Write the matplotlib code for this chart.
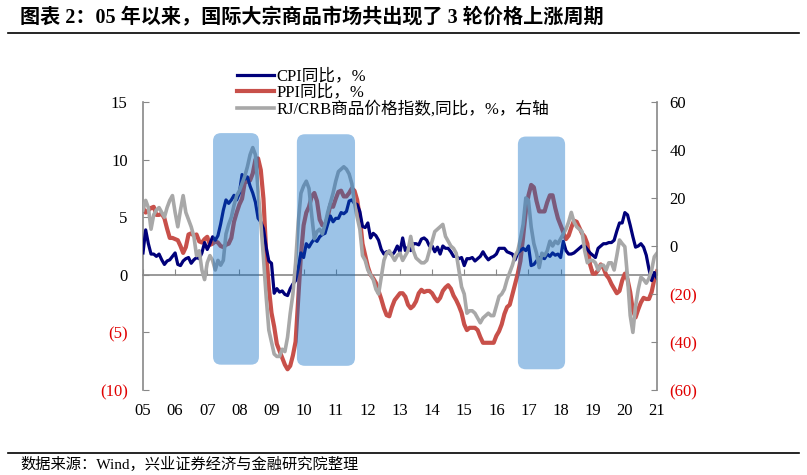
import numpy as np
import matplotlib
matplotlib.use("Agg")
import matplotlib.pyplot as plt
from matplotlib.patches import FancyBboxPatch
from matplotlib.lines import Line2D

# 月度数据 2005-01 ~ 2021-01
cpi = [1.9, 3.9, 2.7, 1.8, 1.8, 1.6, 1.8, 1.3, 0.9, 1.2, 1.3, 1.6,
       1.9, 0.9, 0.8, 1.2, 1.4, 1.5, 1.0, 1.3, 1.5, 1.4, 1.9, 2.8,
       2.2, 2.7, 3.3, 3.0, 3.4, 4.4, 5.6, 6.5, 6.2, 6.5, 6.9, 6.5,
       7.1, 8.7, 8.3, 8.5, 7.7, 7.1, 6.3, 4.9, 4.6, 4.0, 2.4, 1.2,
       1.0, -1.6, -1.2, -1.5, -1.4, -1.7, -1.8, -1.2, -0.8, -0.5, 0.6, 1.9,
       1.5, 2.7, 2.4, 2.8, 3.1, 2.9, 3.3, 3.5, 3.6, 4.4, 5.1, 4.6,
       4.9, 4.9, 5.4, 5.3, 5.5, 6.4, 6.5, 6.2, 6.1, 5.5, 4.2, 4.1,
       4.5, 3.2, 3.6, 3.4, 3.0, 2.2, 1.8, 2.0, 1.9, 1.7, 2.0, 2.5,
       2.0, 3.2, 2.1, 2.4, 2.1, 2.7, 2.7, 2.6, 3.1, 3.2, 3.0, 2.5,
       2.5, 2.0, 2.4, 1.8, 2.5, 2.3, 2.3, 2.0, 1.6, 1.6, 1.4, 1.5,
       0.8, 1.4, 1.4, 1.5, 1.2, 1.4, 1.6, 2.0, 1.6, 1.3, 1.5, 1.6,
       1.8, 2.3, 2.3, 2.3, 2.0, 1.9, 1.8, 1.3, 1.9, 2.1, 2.3, 2.1,
       2.5, 0.8, 0.9, 1.2, 1.5, 1.5, 1.4, 1.8, 1.6, 1.9, 1.7, 1.8,
       1.5, 2.9, 2.1, 1.8, 1.8, 1.9, 2.1, 2.3, 2.5, 2.5, 2.2, 1.9,
       1.7, 1.5, 2.3, 2.5, 2.7, 2.7, 2.8, 2.8, 3.0, 3.8, 4.5, 4.5,
       5.4, 5.2, 4.3, 3.3, 2.4, 2.5, 2.7, 2.4, 1.7, 0.5, -0.5, 0.2,
       -0.3]

ppi = [5.8, 5.4, 5.6, 5.8, 5.9, 5.2, 5.2, 5.3, 4.9, 4.0, 3.2, 3.2,
       3.1, 3.0, 2.5, 1.9, 2.4, 3.5, 3.6, 3.4, 3.5, 2.9, 2.8, 3.1,
       3.3, 2.6, 2.7, 2.9, 2.8, 2.5, 2.4, 2.6, 2.7, 3.2, 4.6, 5.4,
       6.1, 6.6, 8.0, 8.1, 8.2, 8.8, 10.0, 10.1, 9.1, 6.6, 2.0, -1.1,
       -3.3, -4.5, -6.0, -6.6, -7.2, -7.8, -8.2, -7.9, -7.0, -5.8, -2.1, 1.7,
       4.3, 5.4, 5.9, 6.8, 7.1, 6.4, 4.8, 4.3, 4.3, 5.0, 6.1, 5.9,
       6.6, 7.2, 7.3, 6.8, 6.8, 7.1, 7.5, 7.3, 6.5, 5.0, 2.7, 1.7,
       0.7, 0.0, -0.3, -0.7, -1.4, -2.1, -2.9, -3.5, -3.6, -2.8, -2.2, -1.9,
       -1.6, -1.6, -1.9, -2.6, -2.9, -2.7, -2.3, -1.6, -1.3, -1.5, -1.4, -1.4,
       -1.6, -2.0, -2.3, -2.0, -1.4, -1.1, -0.9, -1.2, -1.8, -2.2, -2.7, -3.3,
       -4.3, -4.8, -4.6, -4.6, -4.6, -4.8, -5.4, -5.9, -5.9, -5.9, -5.9, -5.9,
       -5.3, -4.9, -4.3, -3.4, -2.8, -2.6, -1.7, -0.8, 0.1, 1.2, 3.3, 5.5,
       6.9, 7.8, 7.6, 6.4, 5.5, 5.5, 5.5, 6.3, 6.9, 6.9, 5.8, 4.9,
       4.3, 3.7, 3.1, 3.4, 4.1, 4.7, 4.6, 4.1, 3.6, 3.3, 2.7, 0.9,
       0.1, 0.1, 0.4, 0.9, 0.6, 0.0, -0.3, -0.8, -1.2, -1.6, -1.4, -0.5,
       0.1, -0.4, -1.5, -3.1, -3.7, -3.0, -2.4, -2.0, -2.1, -2.1, -1.5, -0.4,
       0.3]

crb = [15, 19, 16, 7, 13, 15, 16, 14, 12, 16, 19, 21,
       14, 8, 15, 21, 14, 11, 8, 4, -4, -2, -10, -14,
       -7, -4, -6, -10, -6, -8, -6, 5, 9, 12, 17, 21,
       23, 26, 29, 33, 38, 41, 38, 23, 10, -5, -21, -35,
       -40, -45, -46, -46, -43, -44, -38, -28, -20, -7, 10, 22,
       25, 27, 24, 13, 3, 6, 7, 5, 9, 14, 18, 22,
       27, 31, 32, 33, 32, 30, 26, 18, 12, 7, -4, -6,
       -10, -12, -14, -18, -20, -13, -6, -3, -2, -4, -6, -4,
       -3, -6, -4, -2, 4, -2, -5, -6, -7, -7, -6, -2,
       2, 6, 7, 8, 9, 4, 2, 0, -1, -3, -10, -17,
       -20, -28, -27, -27, -28, -30, -32, -30, -29, -28, -29, -29,
       -25, -21, -20, -18, -14, -11, -8, -4, -2, 3, 9, 20,
       19, 8, 1, -3, -9, -3, -4, -2, 2, 0, 2, 1,
       3, 5, 7, 10, 14, 10, 8, 7, 6, -2, -7, -6,
       -6, -7, -10, -8, -8, -10, -7, -7, -10, -4, 2.5, 1,
       -0.3, -13, -29, -36, -25, -18, -13, -14, -15.5, -13.5, -10, -4.5,
       -3]

years = list(range(2005, 2022))
year_labels = ["%02d" % (y % 100) for y in years]

# 三轮上涨周期（阴影框）
cycle_start = [2007.18, 2009.79, 2016.67]
cycle_end = [2008.61, 2011.60, 2018.14]
cycle_top = [12.3, 12.2, 12.0]
cycle_bottom = [-7.8, -7.9, -8.2]

left_ticks = [15, 10, 5, 0, -5, -10]
right_ticks = [60, 40, 20, 0, -20, -40, -60]

serif = ["Liberation Serif", "Noto Sans CJK SC"]
plt.rcParams["font.family"] = serif

x = 2005 + np.arange(len(cpi)) / 12.0

fig = plt.figure(figsize=(8.07, 4.75), dpi=100)
ax = fig.add_axes([0.1772, 0.1789, 0.6369, 0.6064])
ax2 = ax.twinx()

l1, = ax.plot(x, cpi, color="#00007a", lw=2.3, label="CPI同比，%", zorder=3)
l2, = ax.plot(x, ppi, color="#c8504a", lw=3.0, label="PPI同比，%", zorder=2)
l3, = ax2.plot(x, crb, color="#a8a8a8", lw=2.6, label="RJ/CRB商品价格指数,同比，%，右轴", zorder=2)

for s, e, t, b in zip(cycle_start, cycle_end, cycle_top, cycle_bottom):
    box = FancyBboxPatch((s, b), e - s, t - b,
                         boxstyle="round,pad=0,rounding_size=0.25",
                         mutation_aspect=2.79,
                         facecolor="#086bc5", edgecolor="none", alpha=0.4,
                         transform=ax.transData, zorder=5)
    ax2.add_patch(box)

ax.set_xlim(2005, 2021)
ax.set_ylim(-10, 15)
ax2.set_ylim(-60, 60)

spine_c = "#888888"
for a in (ax, ax2):
    a.spines["top"].set_visible(False)
    a.spines["bottom"].set_visible(False)
ax.spines["right"].set_visible(False)
ax2.spines["left"].set_visible(False)
ax.spines["left"].set_color(spine_c)
ax2.spines["right"].set_color(spine_c)
ax.spines["left"].set_linewidth(1.2)
ax2.spines["right"].set_linewidth(1.2)

ax.set_yticks(left_ticks)
ax.set_yticklabels([str(v) if v >= 0 else "(%d)" % -v for v in left_ticks])
for lab, v in zip(ax.get_yticklabels(), left_ticks):
    lab.set_color("#e00000" if v < 0 else "black")
ax.tick_params(axis="y", direction="in", length=4, color=spine_c,
               labelsize=12, pad=11)

ax2.set_yticks(right_ticks)
ax2.set_yticklabels([str(v) if v >= 0 else "(%d)" % -v for v in right_ticks])
for lab, v in zip(ax2.get_yticklabels(), right_ticks):
    lab.set_color("#e00000" if v < 0 else "black")
ax2.tick_params(axis="y", direction="in", length=4, color=spine_c,
                labelsize=12, pad=9)

ax.set_xticks(years)
ax.set_xticklabels(year_labels)
ax.tick_params(axis="x", length=0, labelsize=12, pad=9)

# 零轴及年份刻度
zero_axis = ax.secondary_xaxis(0.4)
zero_axis.set_xticks(years)
zero_axis.set_xticklabels([])
zero_axis.tick_params(axis="x", direction="in", length=4, color=spine_c)
zero_axis.spines["bottom"].set_color(spine_c)
zero_axis.spines["bottom"].set_linewidth(1.2)

fig.legend(handles=[l1, l2, l3], loc="upper left",
           bbox_to_anchor=(0.286, 0.87), frameon=False, fontsize=12,
           handlelength=2.2, handletextpad=0.15, labelspacing=0.02,
           borderaxespad=0)

fig.text(0.025, 0.962, "图表 2：05 年以来，国际大宗商品市场共出现了 3 轮价格上涨周期",
         fontsize=14.5, fontweight="bold", va="center", ha="left")
fig.add_artist(Line2D([0.01, 0.99], [0.93, 0.93], color="black", lw=1.2))
fig.add_artist(Line2D([0.01, 0.99], [0.047, 0.047], color="black", lw=1.2))
fig.text(0.025, 0.022, "数据来源：Wind，兴业证券经济与金融研究院整理",
         fontsize=11, va="center", ha="left")

fig.savefig("out.png", dpi=100)
